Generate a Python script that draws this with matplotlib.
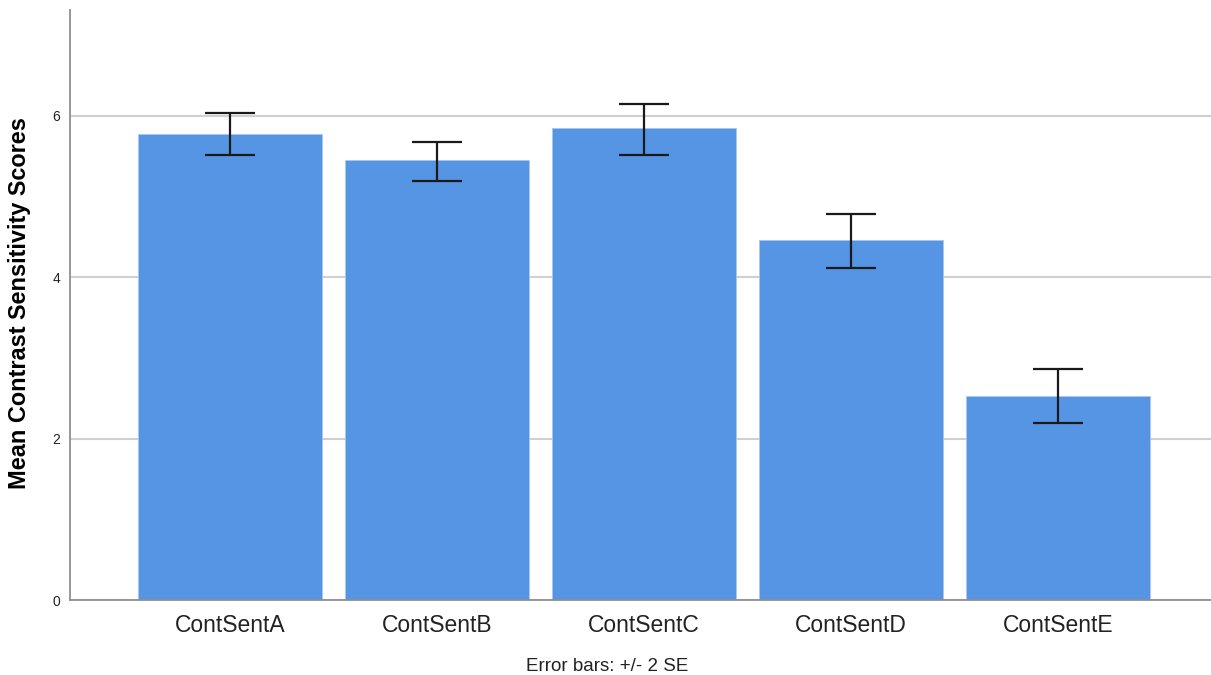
import matplotlib
matplotlib.use("Agg")
import matplotlib.pyplot as plt
import numpy as np

plt.rcParams['font.family'] = ['Liberation Sans', 'DejaVu Sans']

# data
categories = ["ContSentA", "ContSentB", "ContSentC", "ContSentD", "ContSentE"]
means = [5.78, 5.45, 5.85, 4.46, 2.53]
err_low = [5.51, 5.19, 5.52, 4.12, 2.19]
err_high = [6.03, 5.68, 6.15, 4.79, 2.86]

x = np.arange(len(categories))
yerr = np.array([np.array(means) - np.array(err_low),
                 np.array(err_high) - np.array(means)])

fig = plt.figure(figsize=(12.11, 6.75), dpi=100)
ax = fig.add_axes([0.0578, 0.111, 0.9422, 0.874])

# grid lines behind bars
ax.set_axisbelow(True)
ax.yaxis.grid(True, color="#d0d0d0", linewidth=1.5)

ax.bar(x, means, width=0.89, color="#5595e3", edgecolor="#a9c8f0", linewidth=0.6)
ax.errorbar(x, means, yerr=yerr, fmt="none", ecolor="#1a1a1a",
            elinewidth=1.6, capsize=18, capthick=1.6)

ax.set_xlim(-0.773, 4.74)
ax.set_ylim(0, 7.31)
ax.set_yticks([0, 2, 4, 6])
ax.set_xticks(x)
ax.set_xticklabels(categories, fontsize=16.5, color="#222222")
ax.tick_params(axis="y", labelsize=10, length=0, pad=7, labelcolor="#222222")
ax.tick_params(axis="x", length=0, pad=10)

for s in ["top", "right"]:
    ax.spines[s].set_visible(False)
ax.spines["left"].set_color("#909090")
ax.spines["bottom"].set_color("#909090")
ax.spines["left"].set_linewidth(1.3)
ax.spines["bottom"].set_linewidth(1.3)

ax.set_ylabel("Mean Contrast Sensitivity Scores", fontsize=16.9, fontweight="bold")
ax.yaxis.set_label_coords(-0.034, 0.503)

fig.text(0.501, 0.0, "Error bars: +/- 2 SE", fontsize=13.5,
         ha="center", va="bottom", color="#222222")

fig.savefig("out.png", dpi=100)
